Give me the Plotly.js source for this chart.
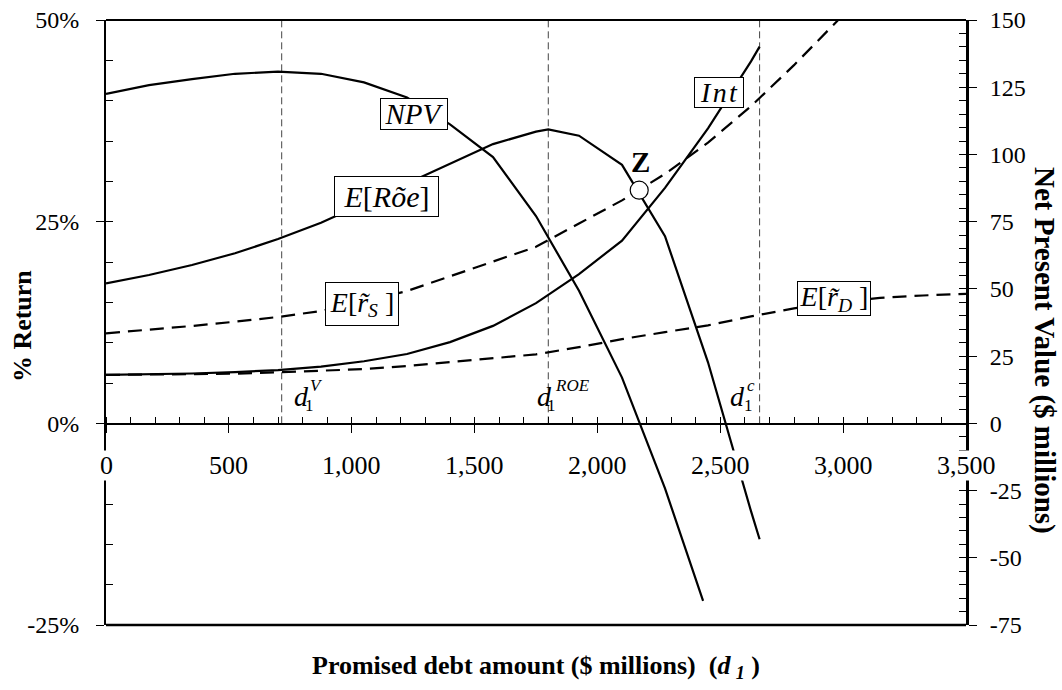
<!DOCTYPE html>
<html>
<head>
<meta charset="utf-8">
<script src="https://cdn.plot.ly/plotly-3.0.1.min.js"></script>
<style>
  html, body { margin: 0; padding: 0; background: #fff; }
  #chart { width: 1062px; height: 690px; }
</style>
</head>
<body>
<div id="chart"></div>
<script>
// Promised debt amounts (d1, $ millions) and the series evaluated at them
const npvDebt = [0, 175, 350, 525, 700, 875, 1050, 1225, 1400, 1575, 1750, 1925, 2100, 2275, 2430];
const npvMillions = [122.5, 125.8, 128, 130, 130.8, 130, 126.8, 121.2, 111.2, 99, 77.1, 49.3, 17, -24.2, -66];

const roeDebt = [0, 175, 350, 525, 700, 875, 1050, 1225, 1400, 1575, 1750, 1800, 1925, 2100, 2275, 2450, 2625, 2660];
const expectedRoe = [0.1736, 0.1839, 0.1963, 0.2108, 0.2285, 0.2487, 0.2728, 0.2975, 0.3222, 0.3462, 0.3616, 0.3645, 0.3566, 0.3204, 0.232, 0.0757, -0.1089, -0.1437];

const intDebt = [0, 175, 350, 525, 700, 875, 1050, 1225, 1400, 1575, 1750, 1925, 2100, 2275, 2450, 2625, 2660];
const interestRate = [0.060, 0.0607, 0.0618, 0.0636, 0.066, 0.0702, 0.077, 0.086, 0.1007, 0.1208, 0.149, 0.185, 0.2265, 0.2918, 0.3657, 0.4487, 0.467];

const equityDebt = [0, 175, 350, 525, 700, 875, 1050, 1225, 1400, 1575, 1750, 1925, 2100, 2275, 2450, 2625, 2800, 2975, 3150];
const expectedEquityReturn = [0.1116, 0.1157, 0.1207, 0.126, 0.1318, 0.1393, 0.151, 0.164, 0.182, 0.20, 0.2188, 0.2477, 0.2764, 0.3092, 0.348, 0.3931, 0.444, 0.4985, 0.556];

const bondDebt = [0, 175, 350, 525, 700, 875, 1050, 1225, 1400, 1575, 1750, 1925, 2100, 2275, 2450, 2625, 2800, 2975, 3150, 3325, 3500];
const expectedDebtReturn = [0.060, 0.0603, 0.0607, 0.0615, 0.0633, 0.0648, 0.0672, 0.0711, 0.0757, 0.0806, 0.0855, 0.0944, 0.1044, 0.1131, 0.1215, 0.1325, 0.1426, 0.1495, 0.1555, 0.1585, 0.1605];

// Critical debt levels d1^V, d1^ROE, d1^c
const thresholdDebt = [715, 1800, 2660];
const thresholdTags = ['V', 'ROE', 'c'];

// Point Z
const zDebt = [2170];
const zReturn = [0.289];

// Axis ticks
const xTickVals = [0, 500, 1000, 1500, 2000, 2500, 3000, 3500];
const xTickText = ['0', '500', '1,000', '1,500', '2,000', '2,500', '3,000', '3,500'];
const leftTickVals = [-0.25, 0, 0.25, 0.5];
const leftTickText = ['-25%', '0%', '25%', '50%'];
const rightTickVals = [-75, -50, -25, 0, 25, 50, 75, 100, 125, 150];
const rightTickText = ['-75', '-50', '-25', '0', '25', '50', '75', '100', '125', '150'];

const SERIF = 'Liberation Serif';
const INK = '#000';
const DASH = '14px,8px';

const traces = [];

// thin dashed guides from the debt axis up to the top of the frame
thresholdDebt.forEach(d => {
  traces.push({
    x: [d, d], y: [0, 0.5], xaxis: 'x', yaxis: 'y',
    mode: 'lines', line: { color: '#444', width: 1, dash: '7px,4px' },
    hoverinfo: 'skip', showlegend: false
  });
});

traces.push({ x: npvDebt, y: npvMillions, yaxis: 'y2', mode: 'lines',
  line: { color: INK, width: 2.2 }, showlegend: false, name: 'NPV' });
traces.push({ x: roeDebt, y: expectedRoe, yaxis: 'y', mode: 'lines',
  line: { color: INK, width: 2.2 }, showlegend: false, name: 'E[ROE]' });
traces.push({ x: intDebt, y: interestRate, yaxis: 'y', mode: 'lines',
  line: { color: INK, width: 2.2 }, showlegend: false, name: 'Int' });
traces.push({ x: equityDebt, y: expectedEquityReturn, yaxis: 'y', mode: 'lines',
  line: { color: INK, width: 2.2, dash: DASH }, showlegend: false, name: 'E[rS]' });
traces.push({ x: bondDebt, y: expectedDebtReturn, yaxis: 'y', mode: 'lines',
  line: { color: INK, width: 2.2, dash: DASH }, showlegend: false, name: 'E[rD]' });
traces.push({ x: zDebt, y: zReturn, yaxis: 'y', mode: 'markers',
  marker: { size: 18, color: '#fff', line: { color: INK, width: 1.2 } },
  showlegend: false, name: 'Z' });

const annotations = [];

// boxed curve labels
function boxLabel(text, x, y, size, w, h) {
  annotations.push({
    text: text, x: x, y: y, xref: 'x', yref: 'y', showarrow: false,
    xanchor: 'center', yanchor: 'middle', width: w, height: h,
    font: { family: SERIF, size: size, color: INK },
    bgcolor: '#fff', bordercolor: INK, borderwidth: 1, borderpad: 0
  });
}
boxLabel('<i>NPV</i>', 1253, 0.384, 29, 66, 30);
boxLabel('<i>E</i>[<i>R\u00f5e</i>]', 1142, 0.281, 30, 103, 39);
boxLabel('<i>E</i>[<i>r\u0303<sub>S</sub></i> ]', 1042, 0.148, 28, 72, 42);
boxLabel('<i>I\u200an\u200at</i>', 2495, 0.410, 28, 48, 29);
boxLabel('<i>E</i>[<i>r\u0303<sub>D</sub></i> ]', 2963, 0.155, 28, 72, 33);

annotations.push({
  text: '<b>Z</b>', x: 2177, y: 0.324, xref: 'x', yref: 'y', showarrow: false,
  xanchor: 'center', yanchor: 'middle', font: { family: SERIF, size: 29, color: INK }
});

// d1 labels next to each guide: offsets for the letter, subscript and superscript
const guideLabelOffsets = [
  { d: 10, one: 21, sup: 26 },
  { d: -13, one: -3, sup: 5 },
  { d: -32, one: -18, sup: -15 }
];
thresholdDebt.forEach((d, i) => {
  const o = guideLabelOffsets[i];
  annotations.push({ text: '<i>d</i>', x: d, y: 0, xref: 'x', yref: 'y', showarrow: false,
    xanchor: 'left', yanchor: 'bottom', xshift: o.d, yshift: 9,
    font: { family: SERIF, size: 28, color: INK } });
  annotations.push({ text: '1', x: d, y: 0, xref: 'x', yref: 'y', showarrow: false,
    xanchor: 'left', yanchor: 'bottom', xshift: o.one, yshift: 6,
    font: { family: SERIF, size: 17, color: INK } });
  annotations.push({ text: '<i>' + thresholdTags[i] + '</i>', x: d, y: 0, xref: 'x', yref: 'y', showarrow: false,
    xanchor: 'left', yanchor: 'bottom', xshift: o.sup, yshift: 26,
    font: { family: SERIF, size: 17, color: INK } });
});

// debt-axis tick labels sit on a white ground so they break the lines they cross
xTickVals.forEach((v, i) => {
  annotations.push({ text: xTickText[i], x: v, y: 0, xref: 'x', yref: 'y', showarrow: false,
    xanchor: 'center', yanchor: 'middle', yshift: -42, bgcolor: '#fff', borderpad: 0,
    font: { family: SERIF, size: 26, color: INK } });
});

// axis titles
annotations.push({
  text: '<b>Promised debt amount ($ millions)\u00a0\u00a0(<i>d</i>\u2009<sub><i>1</i></sub> )</b>',
  x: 0.5, y: -0.069, xref: 'paper', yref: 'paper', showarrow: false,
  xanchor: 'center', yanchor: 'middle', font: { family: SERIF, size: 26, color: INK }
});
annotations.push({
  text: '<b>% Return</b>', x: -0.0977, y: 0.494, xref: 'paper', yref: 'paper', showarrow: false,
  xanchor: 'center', yanchor: 'middle', textangle: -90, font: { family: SERIF, size: 26, color: INK }
});
annotations.push({
  text: '<b>Net Present Value ($ millions)</b>', x: 1.0919, y: 0.4545, xref: 'paper', yref: 'paper', showarrow: false,
  xanchor: 'center', yanchor: 'middle', textangle: 90, font: { family: SERIF, size: 29, color: INK }
});

const layout = {
  width: 1062, height: 690,
  margin: { l: 106, r: 96, t: 20, b: 65, pad: 0 },
  paper_bgcolor: '#fff', plot_bgcolor: '#fff',
  font: { family: SERIF, color: INK },
  showlegend: false,
  xaxis: {
    range: [0, 3500], anchor: 'free', position: 1 / 3,
    showline: true, linecolor: INK, linewidth: 1.3,
    tickmode: 'array', tickvals: xTickVals, showticklabels: false,
    ticks: 'outside', ticklen: 8, tickwidth: 1, tickcolor: INK,
    minor: { tickmode: 'linear', tick0: 0, dtick: 100, ticks: 'inside', ticklen: 6, tickwidth: 1, tickcolor: INK },
    showgrid: false, zeroline: false, fixedrange: true
  },
  yaxis: {
    range: [-0.25, 0.5], anchor: 'x',
    showline: true, linecolor: INK, linewidth: 2,
    tickmode: 'array', tickvals: leftTickVals, ticktext: leftTickText,
    ticks: 'outside', ticklen: 8, tickwidth: 1, tickcolor: INK, ticklabelstandoff: 12,
    tickfont: { family: SERIF, size: 24, color: INK },
    minor: { tickmode: 'linear', tick0: 0, dtick: 0.05, ticks: 'inside', ticklen: 7, tickwidth: 1, tickcolor: INK },
    showgrid: false, zeroline: false, fixedrange: true
  },
  yaxis2: {
    range: [-75, 150], overlaying: 'y', side: 'right', anchor: 'x',
    showline: true, linecolor: INK, linewidth: 3,
    tickmode: 'array', tickvals: rightTickVals, ticktext: rightTickText,
    ticks: 'outside', ticklen: 8, tickwidth: 1, tickcolor: INK, ticklabelstandoff: 8,
    tickfont: { family: SERIF, size: 24, color: INK },
    minor: { tickmode: 'linear', tick0: 0, dtick: 5, ticks: 'inside', ticklen: 7, tickwidth: 1, tickcolor: INK },
    showgrid: false, zeroline: false, fixedrange: true
  },
  shapes: [
    { type: 'line', xref: 'paper', yref: 'paper', x0: 0, x1: 1, y0: 1, y1: 1, line: { color: INK, width: 2 }, layer: 'above' },
    { type: 'line', xref: 'paper', yref: 'paper', x0: 0, x1: 1, y0: 0, y1: 0, line: { color: INK, width: 2.7 }, layer: 'above' }
  ],
  annotations: annotations
};

Plotly.newPlot('chart', traces, layout, { displayModeBar: false, staticPlot: true });
</script>
</body>
</html>
